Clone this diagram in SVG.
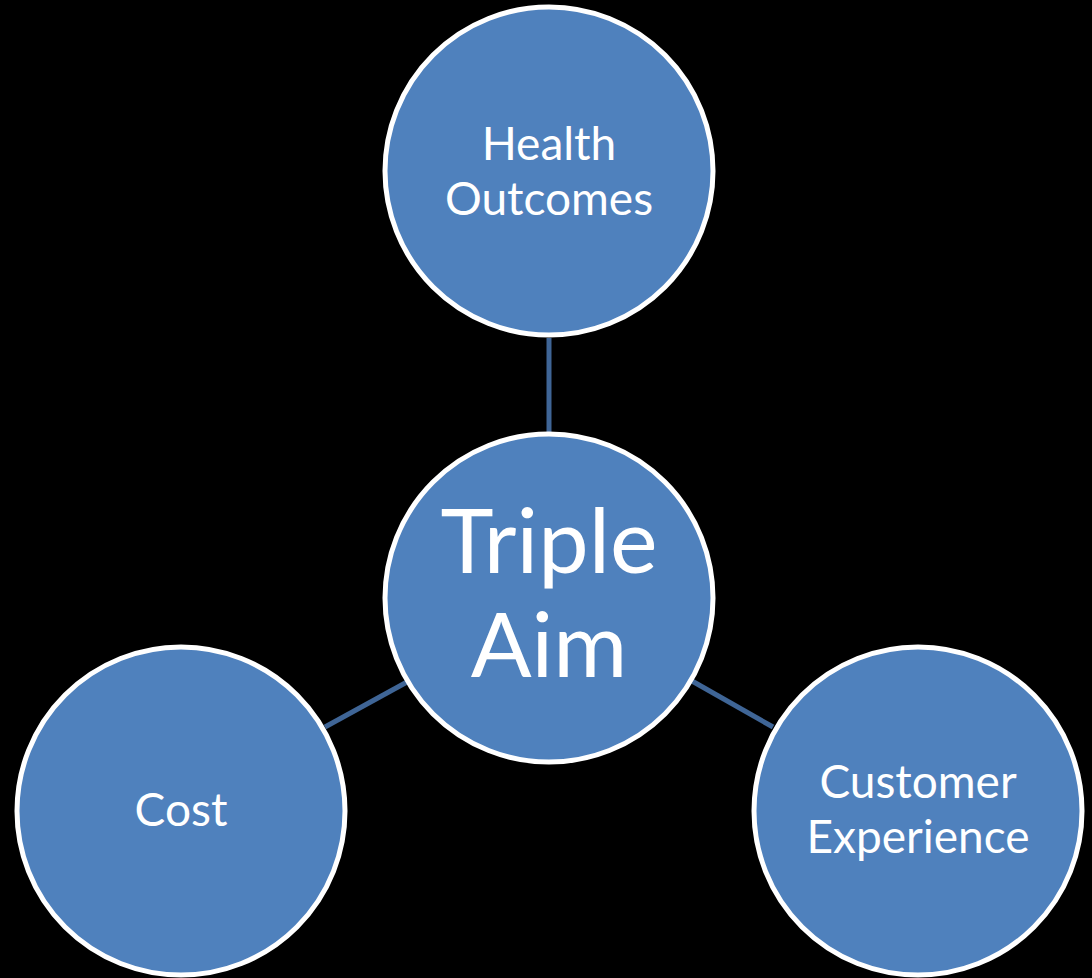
<svg xmlns="http://www.w3.org/2000/svg" width="1092" height="978" viewBox="0 0 1092 978">
<style>
.node{fill:#4F81BD;stroke:#FFFFFF;stroke-width:5}
.lbl{fill:#FFFFFF;font-family:Lato,"Open Sans","Liberation Sans",sans-serif;text-anchor:middle}
.conn{stroke:#3F6596;stroke-width:5;fill:none}
</style>
<rect width="1092" height="978" fill="#000000"/>
<g id="connectors">
<line class="conn" x1="549" y1="338" x2="549" y2="434"/>
<line class="conn" x1="325" y1="727" x2="407" y2="682"/>
<line class="conn" x1="692" y1="681" x2="773" y2="727"/>
</g>
<g id="health">
<circle class="node" cx="549" cy="171" r="164"/>
<text class="lbl" font-size="46" x="549" y="160">Health</text>
<text class="lbl" font-size="46" x="549" y="215">Outcomes</text>
</g>
<g id="triple">
<circle class="node" cx="549" cy="598" r="164"/>
<text class="lbl" font-size="90" x="549" y="573">Triple</text>
<text class="lbl" font-size="90" x="549" y="677">Aim</text>
</g>
<g id="cost">
<circle class="node" cx="181" cy="811" r="164"/>
<text class="lbl" font-size="46" x="181" y="826">Cost</text>
</g>
<g id="customer">
<circle class="node" cx="918" cy="811" r="164"/>
<text class="lbl" font-size="46" x="918" y="798">Customer</text>
<text class="lbl" font-size="46" x="918" y="853">Experience</text>
</g>
</svg>
